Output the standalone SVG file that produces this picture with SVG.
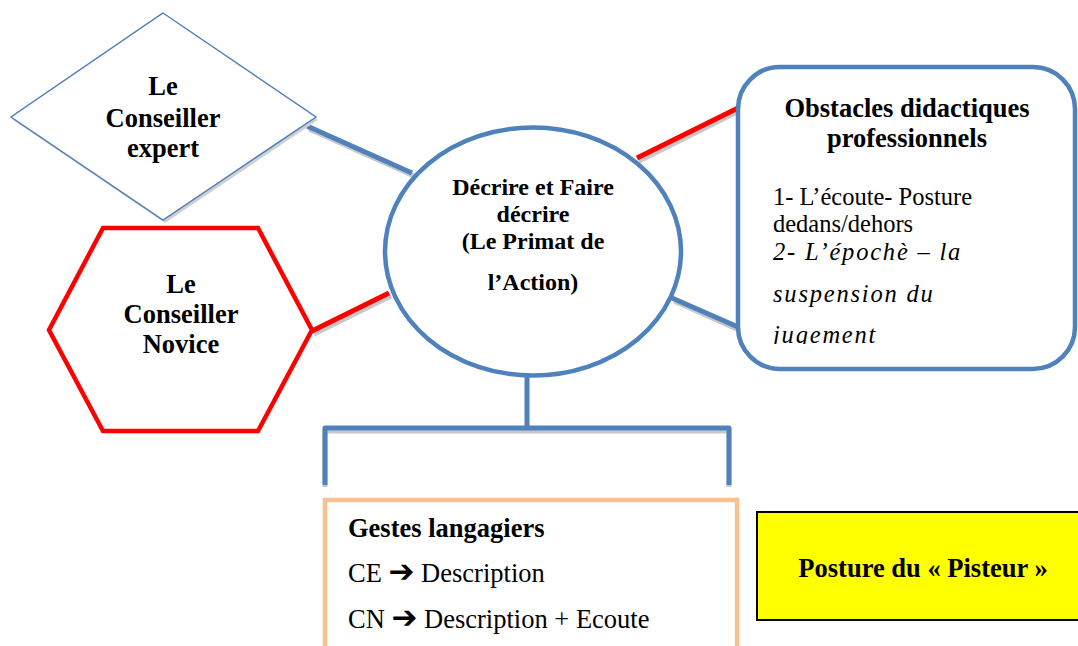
<svg xmlns="http://www.w3.org/2000/svg" width="1078" height="646" viewBox="0 0 1078 646">
<defs>
<style>
.b{font-family:"Liberation Serif","Times New Roman",serif;font-weight:bold;font-size:26.5px;fill:#000}
.b24{font-size:24px}
.r{font-family:"Liberation Serif","Times New Roman",serif;font-size:24.5px;fill:#000}
.it{font-family:"Liberation Serif","Times New Roman",serif;font-style:italic;font-size:24.5px;letter-spacing:1.8px;fill:#000}
.g{font-size:26.5px}
.sh{stroke:#c8c8c8;fill:none}
.blue{stroke:#4f81bd;fill:none}
.red{stroke:#ff0000;fill:none}
.arr{font-family:"DejaVu Sans",sans-serif;font-weight:bold;font-size:31px}
</style>
<clipPath id="clipObs"><rect x="740" y="60" width="338" height="284"/></clipPath>
</defs>
<rect width="1078" height="646" fill="#fff"/>

<g id="connectors" stroke-width="5" stroke-linecap="butt">
  <line class="sh" x1="309" y1="129" x2="414" y2="176"/>
  <line class="blue" x1="307" y1="126" x2="412" y2="173"/>
  <line class="sh" x1="314" y1="334" x2="391" y2="296"/>
  <line class="red" x1="312" y1="331" x2="389" y2="293"/>
  <line class="sh" x1="639" y1="161" x2="741" y2="110"/>
  <line class="red" x1="637" y1="158" x2="740" y2="107"/>
  <line class="sh" x1="674" y1="301" x2="739" y2="330"/>
  <line class="blue" x1="672" y1="298" x2="738" y2="327"/>
  <path class="sh" d="M325,487 V431 H729 V487"/>
  <path class="blue" d="M527,375 V428 M325,485 V428 H729 V485" stroke-linejoin="round"/>
</g>

<g id="expert">
  <polygon points="165,16 318,120 165,223 13,120" fill="#d0d0d0"/>
  <polygon points="163,13 316,117 163,220 11,117" fill="#fff" stroke="#4f81bd" stroke-width="1.5"/>
  <text class="b" x="163" y="95" text-anchor="middle">Le</text>
  <text class="b" x="163" y="127" text-anchor="middle">Conseiller</text>
  <text class="b" x="163" y="157" text-anchor="middle">expert</text>
</g>

<g id="novice">
  <polygon points="103,228 258,228 312,330 258,431 103,431 49,330" fill="#fff" stroke="#ff0000" stroke-width="4.5"/>
  <text class="b" x="181" y="293" text-anchor="middle">Le</text>
  <text class="b" x="181" y="323" text-anchor="middle">Conseiller</text>
  <text class="b" x="181" y="353" text-anchor="middle">Novice</text>
</g>

<g id="centre">
  <ellipse cx="533" cy="251.5" rx="148" ry="124" fill="#fff" stroke="#4f81bd" stroke-width="4.5"/>
  <text class="b b24" x="533" y="195" text-anchor="middle">Décrire et Faire</text>
  <text class="b b24" x="533" y="222" text-anchor="middle">décrire</text>
  <text class="b b24" x="533" y="249" text-anchor="middle">(Le Primat de</text>
  <text class="b b24" x="533" y="290" text-anchor="middle">l’Action)</text>
</g>

<g id="obstacles">
  <rect x="738" y="67" width="337" height="302" rx="42" ry="42" fill="#fff" stroke="#4f81bd" stroke-width="4.5"/>
  <text class="b" x="907" y="117" text-anchor="middle">Obstacles didactiques</text>
  <text class="b" x="907" y="147" text-anchor="middle">professionnels</text>
  <g clip-path="url(#clipObs)">
    <text class="r" x="773" y="205">1- L’écoute- Posture</text>
    <text class="r" x="773" y="232">dedans/dehors</text>
    <text class="it" x="773" y="260">2- L’épochè – la</text>
    <text class="it" x="773" y="302">suspension du</text>
    <text class="it" x="773" y="343">jugement</text>
  </g>
</g>

<g id="gestes">
  <rect x="325" y="500" width="412" height="160" fill="#fff" stroke="#fac08f" stroke-width="4.5"/>
  <text class="b" x="348" y="537">Gestes langagiers</text>
  <text class="r g" x="348" y="582">CE <tspan class="arr">➔</tspan> Description</text>
  <text class="r g" x="348" y="628">CN <tspan class="arr">➔</tspan> Description + Ecoute</text>
</g>

<g id="pisteur">
  <rect x="757" y="512" width="330" height="108" fill="#ffff00" stroke="#000" stroke-width="2"/>
  <text class="b" x="923" y="577" text-anchor="middle">Posture du « Pisteur »</text>
</g>
</svg>
